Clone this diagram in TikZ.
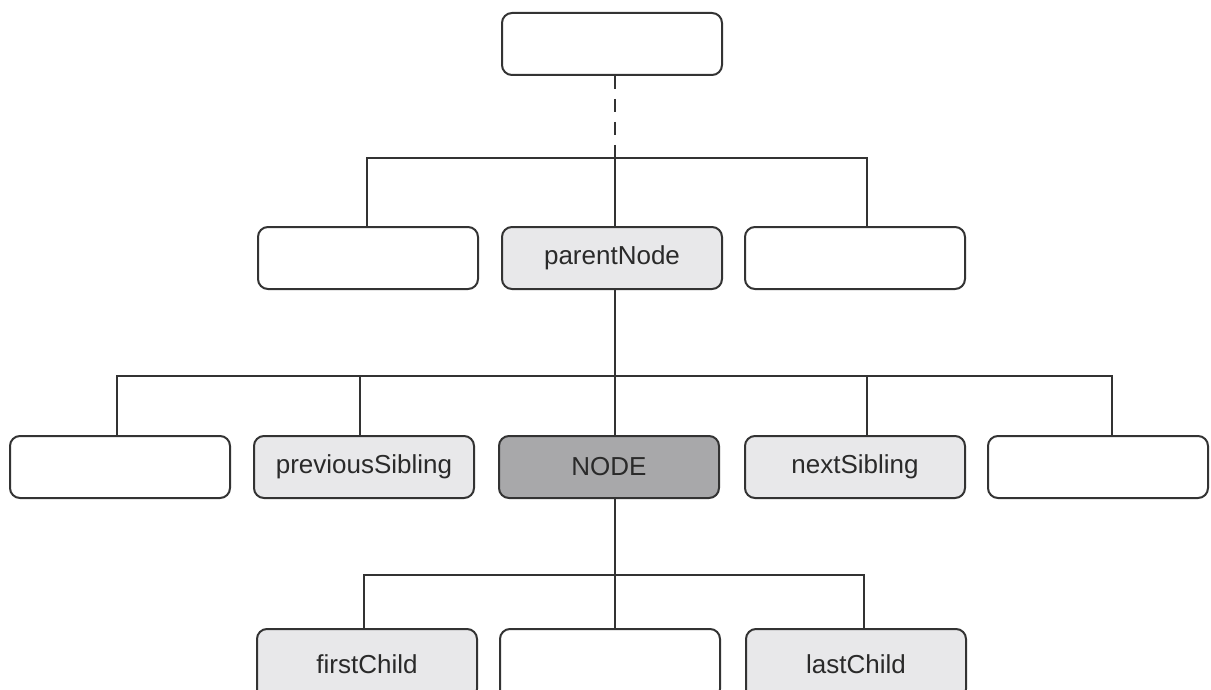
\documentclass[tikz,border=0pt]{standalone}
\usepackage{fontspec}
\setmainfont{Liberation Sans}
\definecolor{linec}{HTML}{333333}
\definecolor{lightfill}{HTML}{E8E8EA}
\definecolor{darkfill}{HTML}{A8A8AA}
\definecolor{textc}{HTML}{2A2A2A}
\begin{document}
\begin{tikzpicture}[x=1pt,y=-1pt,
  box/.style={draw=linec, line width=2pt, rounded corners=10pt, minimum width=220pt,
    minimum height=62pt, inner sep=0pt, fill=white, text=textc,
    font=\fontsize{26}{30}\selectfont},
  lightbox/.style={box, fill=lightfill},
  darkbox/.style={box, fill=darkfill},
  conn/.style={draw=linec, line width=1.8pt},
  dashconn/.style={conn, dash pattern=on 13pt off 10pt}]
\useasboundingbox (0,0) rectangle (1211,690);
\clip (0,0) rectangle (1211,690);
% top
\node[box] (top) at (612,44) {};
% level 2
\node[box] (l2a) at (368,258) {};
\node[lightbox] (parent) at (612,258) {parentNode};
\node[box] (l2c) at (855,258) {};
% level 3
\node[box] (l3a) at (120,467) {};
\node[lightbox] (prev) at (364,467) {previousSibling};
\node[darkbox] (nd) at (609,467) {NODE};
\node[lightbox] (next) at (855,467) {nextSibling};
\node[box] (l3e) at (1098,467) {};
% level 4
\node[lightbox, minimum height=70pt] (first) at (367,664) {firstChild};
\node[box, minimum height=70pt] (l4b) at (610,664) {};
\node[lightbox, minimum height=70pt] (last) at (856,664) {lastChild};
% bus coordinates
\coordinate (bus2) at (615,158);
\coordinate (bus3) at (615,376);
\coordinate (bus4) at (615,575);
% top to level 2
\draw[dashconn] ([xshift=3pt]top.south) -- (bus2);
\draw[conn] (bus2) -- ([xshift=3pt]parent.north);
\draw[conn] (bus2) -| ([xshift=-1pt]l2a.north);
\draw[conn] (bus2) -| ([xshift=12pt]l2c.north);
% parent to level 3
\draw[conn] ([xshift=3pt]parent.south) -- (bus3);
\draw[conn] (bus3) -- ([xshift=6pt]nd.north);
\draw[conn] (bus3) -| ([xshift=-4pt]prev.north);
\draw[conn] (bus3) -| ([xshift=-3pt]l3a.north);
\draw[conn] (bus3) -| ([xshift=12pt]next.north);
\draw[conn] (bus3) -| ([xshift=14pt]l3e.north);
% node to level 4
\draw[conn] ([xshift=6pt]nd.south) -- (bus4);
\draw[conn] (bus4) -- ([xshift=5pt]l4b.north);
\draw[conn] (bus4) -| ([xshift=-3pt]first.north);
\draw[conn] (bus4) -| ([xshift=8pt]last.north);
\end{tikzpicture}
\end{document}
